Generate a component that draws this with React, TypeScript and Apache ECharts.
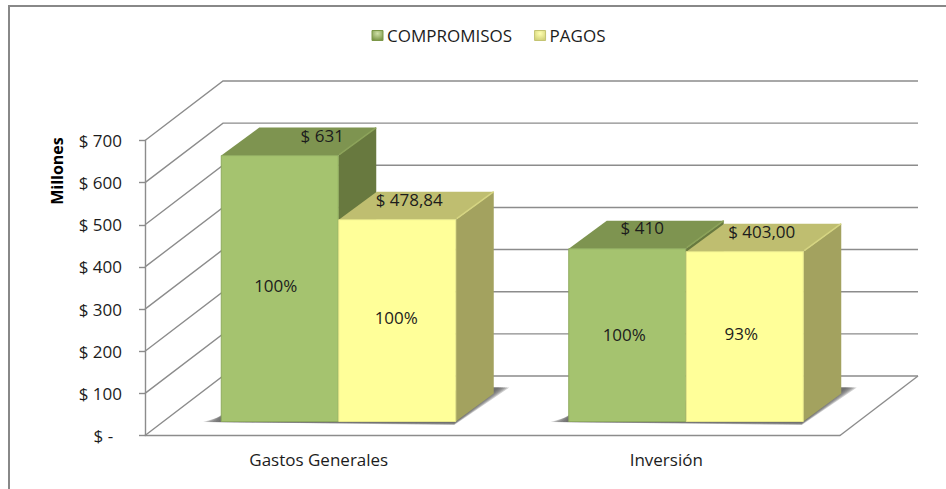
import React, { useEffect, useRef } from "react";
import * as echarts from "echarts";

const categories = ["Gastos Generales", "Inversión"];
const compromisos = [631, 410];
const pagos = [478.84, 403];
const compromisosLabels = ["$ 631", "$ 410"];
const pagosLabels = ["$ 478,84", "$ 403,00"];
const compromisosPct = ["100%", "100%"];
const pagosPct = ["100%", "93%"];
const yTicks = [0, 100, 200, 300, 400, 500, 600, 700];

const FONT = "'Open Sans', Lato, sans-serif";
const FS = 17;
const TEXT = "#1c1c1c";
const GRID = "#8c8c8c";
// 3-D projection, in pixels
const WALL_DX = 78;
const WALL_DY = 59.5;
const BAR_DX = 38;
const BAR_DY = 28;
const BAR_W = 117;
const BAR_SHIFT_X = 19.5;
const BAR_SHIFT_Y = 14;

const pctNudge = [[[-4, -3], [-3, -1]], [[-1, -3], [-3.5, -3]]];
const topNudge = [[[42.5, -20], [15, -21]], [[12, -20], [17, -20]]];

function wallItem(params: any, api: any) {
  const cs = params.coordSys;
  const y = api.coord([0, api.value(1)])[1];
  const x0 = cs.x;
  const x1 = cs.x + cs.width;
  const pts = [[x0, y], [x0 + WALL_DX, y - WALL_DY], [x1 + WALL_DX, y - WALL_DY]];
  const children: any[] = [
    { type: "polyline", shape: { points: pts }, style: { stroke: GRID, lineWidth: 1.4, fill: "none" } },
  ];
  if (api.value(1) === 0) {
    children.push({
      type: "line",
      shape: { x1, y1: y, x2: x1 + WALL_DX, y2: y - WALL_DY },
      style: { stroke: GRID, lineWidth: 1.4 },
    });
  }
  return { type: "group", children };
}

function shadowItem(params: any, api: any) {
  const c = api.coord([api.value(0), 0]);
  const cx = c[0] + BAR_SHIFT_X;
  const y = c[1] - BAR_SHIFT_Y;
  const x0 = cx - BAR_W;
  const x1 = cx + BAR_W;
  const children: any[] = [];
  // stacked translucent layers: a soft edge on the floor
  for (let k = 5; k >= 0; k--) {
    const s = k * 2;
    children.push({
      type: "polygon",
      shape: {
        points: [
          [x0 - 3 - s * 1.5, y + 0.5],
          [x1 - 1, y + 1.5 + s * 0.2],
          [x1 + BAR_DX + 6 + s, y - BAR_DY - 6],
          [x1 + BAR_DX - 4, y - BAR_DY - 6],
          [x0 + 4, y - 12 + s * 0.6],
        ],
      },
      style: { fill: "rgba(95,95,95,0.3)" },
    });
  }
  return { type: "group", children };
}

function barRenderer(
  seriesIdx: number,
  colors: { face: string; edge: string; top: string; side: string; bevel: string },
  tops: string[],
  pcts: string[]
) {
  return (params: any, api: any) => {
    const i = api.value(0);
    const t = api.coord([i, api.value(1)]);
    const b = api.coord([i, 0]);
    const cx = t[0] + BAR_SHIFT_X;
    const x0 = seriesIdx === 0 ? cx - BAR_W : cx + 0.5;
    const x1 = x0 + BAR_W;
    const yTop = t[1] - BAR_SHIFT_Y;
    const yBot = b[1] - BAR_SHIFT_Y;
    const mid = (x0 + x1) / 2;
    const pn = pctNudge[seriesIdx][i];
    const tn = topNudge[seriesIdx][i];
    const textStyle = {
      fill: TEXT,
      font: `${FS}px ${FONT}`,
      textAlign: "center",
      textVerticalAlign: "middle",
    };
    return {
      type: "group",
      children: [
        {
          type: "polygon",
          shape: { points: [[x1, yTop], [x1 + BAR_DX, yTop - BAR_DY], [x1 + BAR_DX, yBot - BAR_DY], [x1, yBot]] },
          style: { fill: colors.side },
        },
        {
          type: "polygon",
          shape: { points: [[x0, yTop], [x0 + BAR_DX, yTop - BAR_DY], [x1 + BAR_DX, yTop - BAR_DY], [x1, yTop]] },
          style: { fill: colors.top },
        },
        {
          type: "line",
          shape: { x1: x1 + 1, y1: yTop - 1, x2: x1 + BAR_DX, y2: yTop - BAR_DY },
          style: { stroke: colors.bevel, lineWidth: 1.5 },
        },
        {
          type: "rect",
          shape: { x: x0, y: yTop, width: BAR_W, height: yBot - yTop },
          style: { fill: colors.face, stroke: colors.edge, lineWidth: 1 },
        },
        {
          type: "text",
          style: { ...textStyle, text: pcts[i], x: mid + pn[0], y: (yTop + yBot) / 2 + pn[1] },
        },
        {
          type: "text",
          style: { ...textStyle, text: tops[i], x: mid + tn[0], y: yTop + tn[1] },
        },
      ],
    };
  };
}

const greenColors = { face: "#A5C36F", edge: "#8FAA5E", top: "#7E9450", side: "#68793F", bevel: "#8CA35A" };
const yellowColors = { face: "#FFFF99", edge: "#E6E68A", top: "#BFBE70", side: "#A3A25F", bevel: "#D6D582" };

const legendMark = (hi: string, lo: string, border: string) => ({
  color: {
    type: "radial", x: 0.5, y: 0.3, r: 0.7,
    colorStops: [{ offset: 0, color: hi }, { offset: 1, color: lo }],
  },
  borderColor: border,
  borderWidth: 1,
});

export default function App() {
  const ref = useRef<HTMLDivElement>(null);
  useEffect(() => {
    const chart = echarts.init(ref.current!, undefined, { renderer: "svg" });
    chart.setOption({
      animation: false,
      backgroundColor: "#fff",
      textStyle: { fontFamily: FONT, color: TEXT },
      legend: {
        left: 371.5,
        top: 27,
        padding: 0,
        itemWidth: 11,
        itemHeight: 10,
        itemGap: 22,
        selectedMode: false,
        textStyle: { fontSize: FS, color: TEXT, fontFamily: FONT, padding: [0, 0, 5, -1] },
        data: [
          { name: "COMPROMISOS", icon: "rect", itemStyle: legendMark("#CFE0A8", "#7C9748", "#7C9748") },
          { name: "PAGOS", icon: "rect", itemStyle: legendMark("#FFFFB0", "#D2D27A", "#C4C472") },
        ],
      },
      grid: { left: 145, top: 140.5, width: 695, height: 295 },
      xAxis: {
        type: "category",
        data: categories,
        axisLine: { lineStyle: { color: GRID, width: 1.4 } },
        axisTick: { show: false },
        axisLabel: { color: TEXT, fontSize: FS, fontFamily: FONT, margin: 15 },
      },
      yAxis: {
        type: "value",
        min: 0,
        max: 700,
        interval: 100,
        axisLine: { show: true, lineStyle: { color: GRID, width: 1.4 } },
        axisTick: { show: true, length: 6, lineStyle: { color: GRID, width: 1.4 } },
        splitLine: { show: false },
        axisLabel: {
          color: TEXT,
          fontSize: FS,
          fontFamily: FONT,
          margin: 23,
          formatter: (v: number) => (v === 0 ? "$ -\u00a0\u00a0" : `$ ${v}`),
        },
      },
      graphic: [
        {
          type: "polyline",
          silent: true,
          shape: { points: [[9, 489], [9, 6], [946, 6]] },
          style: { stroke: "#888888", lineWidth: 2, fill: "none" },
        },
        {
          type: "text",
          silent: true,
          x: 57,
          y: 171,
          rotation: Math.PI / 2,
          style: {
            text: "Millones",
            fill: "#000",
            font: `bold 16px ${FONT}`,
            textAlign: "center",
            textVerticalAlign: "middle",
          },
        },
      ],
      series: [
        {
          type: "custom",
          name: "wall",
          silent: true,
          clip: false,
          renderItem: wallItem,
          data: yTicks.map((v) => [0, v]),
          z: 1,
        },
        {
          type: "custom",
          name: "shadow",
          silent: true,
          clip: false,
          renderItem: shadowItem,
          data: categories.map((_, i) => [i, 0]),
          z: 2,
        },
        {
          type: "custom",
          name: "COMPROMISOS",
          silent: true,
          clip: false,
          renderItem: barRenderer(0, greenColors, compromisosLabels, compromisosPct),
          data: compromisos.map((v, i) => [i, v]),
          itemStyle: { color: greenColors.face },
          z: 3,
        },
        {
          type: "custom",
          name: "PAGOS",
          silent: true,
          clip: false,
          renderItem: barRenderer(1, yellowColors, pagosLabels, pagosPct),
          data: pagos.map((v, i) => [i, v]),
          itemStyle: { color: yellowColors.face },
          z: 4,
        },
      ],
    });
    return () => chart.dispose();
  }, []);
  return (
    <div
      ref={ref}
      style={{ position: "absolute", left: 0, top: 0, width: 946, height: 489, background: "#fff" }}
    />
  );
}
